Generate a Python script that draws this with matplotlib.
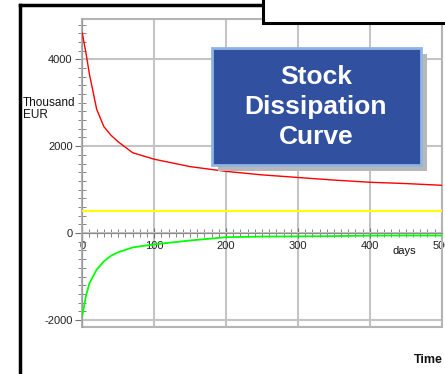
#======================================================================
# Stock Dissipation Curve (Thousand EUR over days)
#======================================================================
import matplotlib
matplotlib.use('Agg')
import matplotlib.pyplot as plt
from matplotlib.patches import Rectangle
from matplotlib.lines import Line2D
import numpy as np

plt.rcParams['font.family'] = ['Liberation Sans', 'DejaVu Sans']

#--------------------------------------------------------------------------
# Data
#--------------------------------------------------------------------------
days = [0, 5, 10, 20, 30, 40, 50, 70, 100, 150, 200, 250, 300, 350, 400, 450, 500]
stock = [4600, 4150, 3650, 2850, 2450, 2250, 2100, 1850, 1700, 1530, 1420,
         1340, 1280, 1220, 1170, 1140, 1100]
dissipation = [-1900, -1450, -1150, -840, -650, -520, -440, -330, -260, -170,
               -95, -80, -75, -70, -58, -55, -55]
level_days = [0, 500]
level = [515, 515]

x_ticks = [0, 100, 200, 300, 400, 500]
y_ticks = [-2000, 0, 2000, 4000]

#--------------------------------------------------------------------------
# Figure and axes placed in pixels
#--------------------------------------------------------------------------
W, H = 445, 374
fig = plt.figure(figsize=(W / 100, H / 100), dpi=100)
fig.patch.set_facecolor('white')

def px(x0, y0, x1, y1):
    return [x0 / W, 1 - y1 / H, (x1 - x0) / W, (y1 - y0) / H]

ax = fig.add_axes(px(82.3, 19.3, 441.7, 327.3))
ax.set_xlim(0, 500)
ax.set_ylim(-2168, 4920)

ax.plot(days, stock, color='#ff0000', lw=1.0, zorder=4)
ax.plot(level_days, level, color='#ffff00', lw=1.5, zorder=4)
ax.plot(days, dissipation, color='#00ff00', lw=1.3, zorder=4)

#------------------ grid and frame ----------------------------------------
ax.set_xticks(x_ticks)
ax.set_xticklabels([str(v) for v in x_ticks])
ax.set_yticks(y_ticks)
ax.set_yticklabels([str(v) for v in y_ticks])
ax.set_xticks(np.arange(0, 501, 10), minor=True)
ax.set_yticks(np.arange(-2000, 4801, 200), minor=True)
ax.grid(True, which='major', color='#c4c4c4', lw=1.5, zorder=0)
ax.set_axisbelow(True)

for s in ['top', 'right']:
    ax.spines[s].set_visible(False)
ax.spines['bottom'].set_position(('data', 0))
ax.spines['bottom'].set_color('#8a8a8a')
ax.spines['left'].set_color('#9a9a9a')
ax.add_patch(Rectangle((0, 0), 1, 1, transform=ax.transAxes, fill=False,
                       edgecolor='#b4b4b4', lw=1.5, clip_on=False, zorder=1))

ax.tick_params(axis='x', which='both', direction='inout', color='#707070',
               labelsize=8, labelcolor='#222222')
ax.tick_params(axis='x', which='major', length=7, pad=2)
ax.tick_params(axis='x', which='minor', length=6)
ax.tick_params(axis='y', which='major', direction='out', length=5, pad=2,
               color='#707070', labelsize=8, labelcolor='#222222')
ax.tick_params(axis='y', which='minor', direction='inout', length=6,
               color='#707070')

#------------------ labels ------------------------------------------------
fig.text(23 / W, 1 - 97 / H, 'Thousand\nEUR', fontsize=8.5, va='top', ha='left',
         linespacing=0.95, color='#111111')
fig.text(404 / W, 1 - 251 / H, 'days', fontsize=8, ha='center', va='center',
         color='#111111')
fig.text(443 / W, 1 - 360 / H, 'Time', fontsize=9, fontweight='bold',
         ha='right', va='center', color='#111111')

#------------------ title box with shadow ---------------------------------
fig.patches.append(Rectangle((218 / W, 1 - 171 / H), 209 / W, 117 / H,
                             transform=fig.transFigure, facecolor='#b8b8b8',
                             edgecolor='none', zorder=5))
fig.patches.append(Rectangle((212 / W, 1 - 165 / H), 209 / W, 117 / H,
                             transform=fig.transFigure, facecolor='#3150a0',
                             edgecolor='#8fb4e3', lw=2, zorder=6))
fig.text(316 / W, 1 - 107 / H, 'Stock\nDissipation\nCurve', color='white',
         fontsize=19, fontweight='bold', ha='center', va='center',
         linespacing=1.3, zorder=7)

#------------------ outer page frame --------------------------------------
fig.lines.append(Line2D([20 / W, 20 / W], [1 - 5 / H, 0], transform=fig.transFigure,
                        color='black', lw=2.5))
fig.lines.append(Line2D([20 / W, 263 / W], [1 - 5 / H, 1 - 5 / H],
                        transform=fig.transFigure, color='black', lw=2.5))
fig.patches.append(Rectangle((263 / W, 1 - 23 / H), 190 / W, 30 / H,
                             transform=fig.transFigure, facecolor='white',
                             edgecolor='black', lw=2.2, zorder=3))

fig.savefig('out.png', dpi=100)
print("Completed Successfully ...")
